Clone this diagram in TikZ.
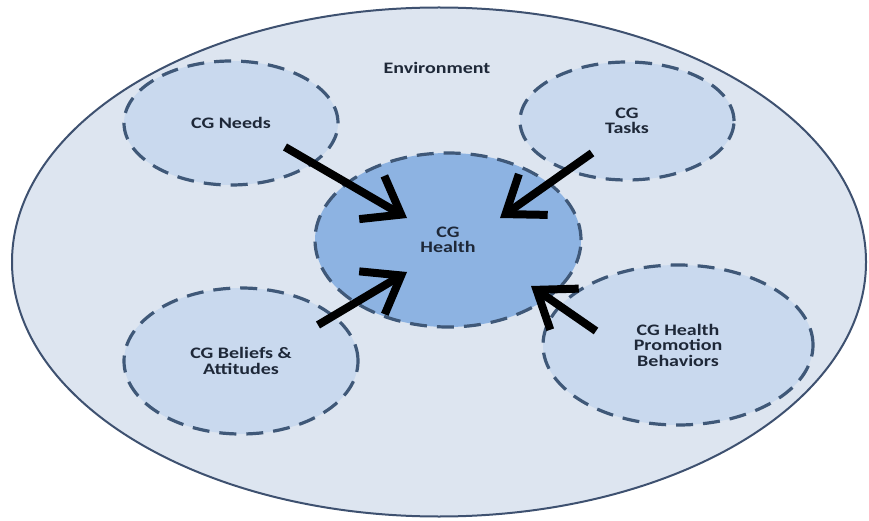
\documentclass[tikz,border=0pt]{standalone}
\usepackage{fontspec}
\setmainfont{Carlito}[FakeStretch=1.25]
\usepackage{xcolor}
\usetikzlibrary{arrows.meta,shapes.geometric}

\definecolor{envfill}{HTML}{DDE5F0}
\definecolor{envline}{HTML}{3E5170}
\definecolor{ringfill}{HTML}{C9D9EE}
\definecolor{corefill}{HTML}{8DB3E2}
\definecolor{dashline}{HTML}{3F5878}
\definecolor{txt}{HTML}{1E2838}

\begin{document}
\begin{tikzpicture}[
  x=1pt, y=-1pt,
  font={\fontsize{16}{15.5}\selectfont\bfseries},
  env/.style={ellipse, draw=envline, line width=2pt, fill=envfill, inner sep=0pt},
  ring/.style={ellipse, draw=dashline, line width=3.2pt, dash pattern=on 17pt off 10pt,
               fill=ringfill, align=center, inner sep=0pt, text=txt},
  core/.style={ring, fill=corefill},
  push/.style={line width=8pt, draw=black, -{Straight Barb[length=34pt,width=50pt]}}
]
\useasboundingbox (0,0) rectangle (869,521);
\node[env, minimum width=854pt, minimum height=509pt] (env) at (439,262) {};
\node[text=txt] (envlbl) at (437,68) {Environment};
\node[ring, minimum width=214pt, minimum height=124pt] (needs)   at (231,123) {CG Needs};
\node[ring, minimum width=214pt, minimum height=118pt] (tasks)   at (627,121) {CG\\Tasks};
\node[core, minimum width=266pt, minimum height=174pt] (health)  at (448,240) {CG\\Health};
\node[ring, minimum width=234pt, minimum height=146pt] (beliefs) at (241,361) {CG Beliefs \&\\Attitudes};
\node[ring, minimum width=270pt, minimum height=160pt] (promo)   at (678,345) {CG Health\\Promotion\\Behaviors};
\draw[push] ([shift={(54,24)}]needs.center)    -- ([shift={(-41,-22)}]health.center);
\draw[push] ([shift={(-35,32)}]tasks.center)   -- ([shift={(52,-22)}]health.center);
\draw[push] ([shift={(77,-36)}]beliefs.center) -- ([shift={(-41,32)}]health.center);
\draw[push] ([shift={(-82,-14)}]promo.center)  -- ([shift={(83,46)}]health.center);
\end{tikzpicture}
\end{document}
